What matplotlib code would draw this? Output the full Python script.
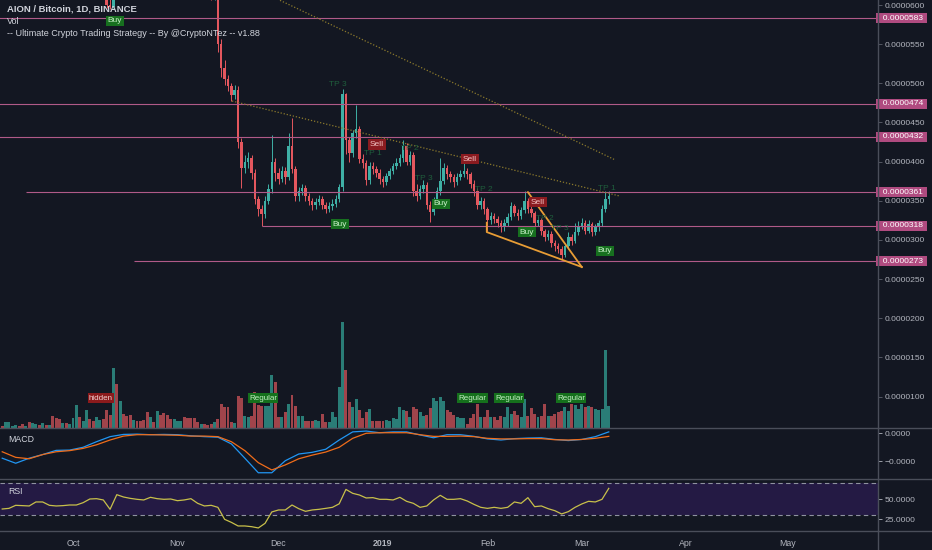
import numpy as np
import matplotlib
matplotlib.use('Agg')
import matplotlib.pyplot as plt
from matplotlib.lines import Line2D
from matplotlib.ticker import FuncFormatter
import matplotlib.transforms as mtransforms

plt.rcParams['font.family'] = ['Liberation Sans', 'DejaVu Sans']

# day numbers: 0 = 2018-10-01, first bar is 2018-09-10
# prices in units of 1e-7 BTC
first_day = -21
first_open = 700

close = [690, 695, 702, 705, 708, 700, 692, 696, 688, 693,
         698, 694, 699, 695, 700, 688, 680, 674, 678, 675,
         679, 686, 700, 693, 697, 706, 700, 694, 699, 703,
         697, 600, 598, 640, 628, 640, 634, 628, 622, 630,
         626, 622, 618, 612, 620, 616, 628, 624, 619, 615,
         612, 618, 623, 628, 624, 620, 617, 614, 612, 615,
         613, 611, 609, 615, 550, 520, 505, 496, 485, 492,
         425, 392, 400, 404, 385, 352, 340, 333, 350, 365,
         400, 385, 378, 388, 380, 420, 390, 356, 362, 366,
         356, 350, 344, 348, 352, 345, 340, 343, 346, 352,
         368, 486, 428, 411, 436, 442, 403, 398, 376, 395,
         390, 386, 378, 374, 382, 388, 394, 398, 404, 420,
         400, 408, 362, 356, 365, 370, 345, 336, 350, 362,
         375, 392, 384, 380, 374, 380, 384, 388, 384, 372,
         362, 345, 350, 339, 326, 330, 327, 322, 316, 322,
         329, 343, 335, 330, 338, 350, 340, 334, 322, 325,
         311, 304, 308, 296, 292, 288, 281, 292, 304, 298,
         310, 318, 322, 312, 320, 310, 316, 322, 340, 352,
         356]

high = [705, 699, 706, 710, 714, 712, 703, 700, 699, 697,
        702, 703, 704, 703, 705, 703, 691, 684, 683, 682,
        684, 690, 708, 704, 702, 712, 710, 704, 703, 708,
        707, 700, 612, 646, 652, 646, 644, 638, 632, 634,
        634, 630, 626, 621, 625, 624, 634, 632, 628, 623,
        619, 622, 627, 633, 632, 628, 624, 620, 618, 619,
        618, 616, 614, 625, 620, 556, 530, 510, 500, 498,
        497, 430, 408, 412, 408, 390, 356, 345, 356, 372,
        434, 404, 392, 395, 393, 437, 456, 394, 368, 372,
        370, 360, 354, 354, 358, 356, 349, 348, 352, 357,
        372, 493, 488, 432, 440, 472, 446, 410, 402, 400,
        400, 394, 390, 382, 386, 392, 398, 404, 410, 428,
        424, 414, 412, 372, 370, 376, 374, 350, 355, 367,
        405, 398, 396, 388, 384, 385, 389, 399, 392, 387,
        376, 366, 355, 353, 342, 336, 334, 331, 326, 327,
        334, 348, 346, 339, 342, 362, 354, 344, 337, 330,
        328, 314, 313, 311, 300, 296, 292, 296, 310, 307,
        322, 324, 328, 325, 326, 323, 320, 326, 344, 362,
        362]

low = [684, 686, 691, 698, 700, 695, 687, 688, 683, 684,
       689, 690, 690, 690, 692, 684, 676, 670, 670, 671,
       672, 676, 684, 688, 690, 694, 696, 690, 690, 695,
       692, 596, 595, 596, 622, 624, 629, 624, 618, 619,
       622, 618, 614, 608, 609, 612, 613, 620, 615, 611,
       608, 609, 614, 620, 620, 616, 613, 610, 608, 609,
       609, 608, 607, 607, 540, 508, 498, 490, 478, 480,
       418, 366, 385, 392, 378, 346, 330, 318, 328, 346,
       360, 375, 372, 374, 372, 376, 385, 350, 350, 357,
       350, 344, 338, 340, 344, 340, 335, 336, 338, 342,
       348, 362, 410, 400, 406, 430, 398, 392, 370, 372,
       384, 380, 372, 368, 370, 378, 384, 390, 394, 400,
       396, 396, 356, 350, 352, 360, 340, 323, 332, 346,
       358, 372, 378, 374, 368, 370, 376, 380, 378, 366,
       356, 340, 340, 333, 311, 320, 322, 316, 310, 312,
       318, 326, 330, 325, 327, 334, 335, 329, 317, 318,
       306, 298, 300, 291, 286, 283, 276, 278, 289, 293,
       296, 306, 314, 307, 309, 305, 306, 312, 318, 336,
       346]

volume = [2, 6, 6, 2, 3, 2, 4, 2, 6, 5,
          4, 3, 5, 3, 3, 12, 10, 9, 5, 5,
          4, 10, 23, 11, 7, 18, 9, 7, 11, 8,
          9, 18, 13, 60, 44, 27, 14, 12, 13, 8,
          7, 7, 8, 16, 11, 6, 17, 13, 15, 13,
          9, 9, 7, 7, 11, 10, 10, 10, 6, 4,
          4, 3, 4, 6, 9, 24, 21, 21, 6, 5,
          32, 30, 12, 11, 12, 36, 23, 22, 22, 22,
          53, 46, 11, 11, 16, 24, 33, 22, 12, 12,
          7, 7, 7, 8, 7, 14, 6, 6, 16, 11,
          41, 106, 58, 26, 21, 29, 18, 10, 16, 19,
          7, 7, 7, 7, 8, 7, 10, 9, 21, 18,
          17, 11, 21, 19, 16, 12, 13, 20, 30, 27,
          31, 27, 18, 16, 13, 11, 10, 10, 4, 10,
          14, 24, 11, 11, 18, 11, 11, 8, 12, 11,
          21, 14, 17, 13, 11, 29, 12, 20, 14, 11,
          12, 24, 12, 12, 14, 16, 17, 21, 17, 24,
          23, 19, 24, 21, 22, 21, 19, 18, 19, 78,
          22]

# MACD (units of 1e-6), every 4 days from first_day
macd_line = [-0.90, -1.08, -0.90, -0.77, -0.62, -0.61, -0.51, -0.31, -0.13, -0.05,
             -0.04, -0.06, -0.05, -0.06, -0.10, -0.13, -0.15, -0.39, -0.90, -1.42,
             -1.42, -0.99, -0.75, -0.69, -0.58, -0.25, 0.04, 0.07, 0.01, 0.04,
             0.04, -0.07, -0.17, -0.06, -0.06, -0.12, -0.21, -0.25, -0.20, -0.18,
             -0.17, -0.23, -0.27, -0.23, -0.13, 0.04]
macd_signal = [-0.67, -0.87, -0.92, -0.77, -0.67, -0.63, -0.55, -0.42, -0.25, -0.11,
               -0.06, -0.06, -0.07, -0.08, -0.11, -0.11, -0.13, -0.31, -0.63, -1.06,
               -1.32, -1.14, -0.92, -0.79, -0.68, -0.51, -0.19, -0.01, 0.01, 0.01,
               0.01, -0.06, -0.12, -0.12, -0.11, -0.13, -0.19, -0.21, -0.21, -0.20,
               -0.20, -0.24, -0.25, -0.23, -0.19, -0.12]

# RSI, every 2 days from first_day
rsi = [37.5, 38.3, 42.1, 41.7, 41.3, 46.3, 46.3, 42.1, 41.3, 41.7,
       42.5, 42.5, 45.4, 50.0, 50.4, 48.8, 37.1, 55.4, 52.5, 50.8,
       49.6, 48.8, 52.1, 50.4, 49.6, 50.0, 47.9, 48.8, 50.4, 44.6,
       41.3, 42.1, 39.6, 24.6, 20.8, 16.3, 16.3, 15.4, 13.8, 19.6,
       33.8, 36.3, 36.3, 42.5, 37.9, 34.6, 36.3, 37.1, 38.3, 39.6,
       44.0, 62.0, 57.1, 55.0, 51.3, 51.7, 49.6, 49.6, 48.8, 52.1,
       47.1, 44.6, 39.6, 41.3, 48.8, 54.6, 49.6, 49.6, 50.4, 47.5,
       43.3, 39.6, 38.3, 39.6, 38.3, 39.6, 46.3, 44.6, 51.7, 40.4,
       41.3, 37.9, 35.4, 31.3, 34.2, 39.6, 43.8, 47.1, 46.3, 49.6,
       63.3]

levels = [583, 474, 432, 361, 318, 273]
level_start = [-22, -22, -22, -14, 56, 18]

month_days = [0, 31, 61, 92, 123, 151, 182, 212]
month_names = ['Oct', 'Nov', 'Dec', '2019', 'Feb', 'Mar', 'Apr', 'May']

buy_signals = [(12.5, 580), (79.2, 320), (109.2, 346), (134.7, 310), (157.9, 286)]
sell_signals = [(90.2, 422), (117.8, 403), (138.0, 348)]
tp_labels = [('TP 3', 78.6, 499), ('TP 1', 89.0, 411), ('TP 2', 100.0, 417),
             ('TP 3', 104.0, 379), ('TP 2', 122.0, 364), ('TP 2', 140.0, 327),
             ('TP 3', 144.5, 314), ('TP 1', 158.5, 366)]
div_labels = [('hidden', 8.3, '#8b1a1c', '#f2d2d2'), ('Regular', 56.4, '#15701c', '#c2eec2'),
              ('Regular', 118.6, '#15701c', '#c2eec2'), ('Regular', 129.4, '#15701c', '#c2eec2'),
              ('Regular', 147.8, '#15701c', '#c2eec2')]

dotted_lines = [[(58, 613), (161, 402)], [(47.2, 477.4), (162.3, 356)]]
wedge_lines = [[(122.8, 322), (122.8, 310), (151, 265.4)], [(135, 361), (151, 265.4)]]

BG = '#131722'
TXT = '#b2b5be'
SEP = '#4a4e5a'
UP, DOWN = '#3fb0a6', '#e4575e'
VUP, VDOWN = '#2a7d77', '#a0444b'
W, H = 932, 550


def rect(top, bottom):
    return [0, 1 - bottom / H, 878 / W, (bottom - top) / H]


fig = plt.figure(figsize=(W / 100, H / 100), dpi=100, facecolor=BG)
axv = fig.add_axes(rect(0, 428), facecolor=BG)
ax = fig.add_axes(rect(0, 428), sharex=axv, facecolor='none')
axm = fig.add_axes(rect(428, 479), sharex=axv, facecolor=BG)
axr = fig.add_axes(rect(479, 531), sharex=axv, facecolor=BG)

for a in (axv, ax, axm, axr):
    for s in a.spines.values():
        s.set_visible(False)
    a.tick_params(bottom=False, labelbottom=False, left=False, labelleft=False)
axv.set_xlim(-21.66, 238.9)

# candles
days = np.arange(first_day, first_day + len(close))
c = np.array(close, float)
o = np.concatenate([[first_open], c[:-1]])
up = c >= o
cols = np.where(up, UP, DOWN)
ax.vlines(days, low, high, colors=cols, linewidth=0.7)
body = np.maximum(np.abs(c - o), 0.8)
ax.bar(days, body, bottom=np.minimum(c, o), width=0.74, color=cols, linewidth=0)
ax.set_ylim(59.8, 606.4)

# volume
axv.bar(days, volume, width=0.88, color=np.where(up, VUP, VDOWN), linewidth=0)
axv.set_ylim(0, max(volume) * 4.04)
axv.set_yticks([])

ax.yaxis.tick_right()
ax.set_yticks(range(100, 601, 50))
ax.yaxis.set_major_formatter(FuncFormatter(lambda v, _: f'{v * 1e-7:.7f}'))
ax.tick_params(right=True, labelright=True, colors=TXT, labelsize=6.1, length=3,
               width=0.6, pad=2)
ax.tick_params(axis='y', color='#5d606b')

# levels
ax.hlines(levels, level_start, 240, colors='#b05a88', linewidth=0.8)
ytrans = mtransforms.blended_transform_factory(ax.transAxes, ax.transData)
for lv in levels:
    ax.text(1.0, lv, f'  {lv * 1e-7:.7f} ', transform=ytrans, ha='left', va='center',
            fontsize=6.1, color='white', clip_on=False, zorder=6,
            bbox=dict(boxstyle='square,pad=0.18', fc='#b04b80', ec='none'))

for seg in dotted_lines:
    xs, ys = zip(*seg)
    ax.plot(xs, ys, color='#8c7a2c', linestyle=(0, (1, 1.5)), linewidth=0.9)
for seg in wedge_lines:
    xs, ys = zip(*seg)
    ax.plot(xs, ys, color='#e89d35', linewidth=1.3)

for x, y in buy_signals:
    ax.text(x, y, 'Buy', ha='center', va='center', fontsize=6, color='#c6eec6',
            bbox=dict(boxstyle='square,pad=0.2', fc='#17701f', ec='none'))
for x, y in sell_signals:
    ax.text(x, y, 'Sell', ha='center', va='center', fontsize=6, color='#f3c4c4',
            bbox=dict(boxstyle='square,pad=0.2', fc='#8a1b20', ec='none'))
for t, x, y in tp_labels:
    ax.text(x, y, t, ha='center', va='center', fontsize=6, color='#1f5e3c')
for t, x, fc, tc in div_labels:
    axv.text(x, 30, t, ha='center', va='center', fontsize=5.8, color=tc, zorder=5,
             bbox=dict(boxstyle='square,pad=0.15', fc=fc, ec='none'))

# MACD
macd_days = first_day + 4 * np.arange(len(macd_line))
axm.plot(macd_days, macd_line, color='#2196f3', linewidth=0.9)
axm.plot(macd_days, macd_signal, color='#ef6c1a', linewidth=0.9)
axm.set_ylim(-1.643, 0.179)
axm.yaxis.tick_right()
axm.set_yticks([0, -1])
axm.yaxis.set_major_formatter(FuncFormatter(lambda v, _: f'{v * 1e-6:.4f}'.replace('-', '\u2212')))
axm.tick_params(right=True, labelright=True, colors=TXT, labelsize=6.1, length=3,
                width=0.6, pad=2)

# RSI
rsi_days = first_day + 2 * np.arange(len(rsi))
axr.axhspan(30, 70, color='#241a44', linewidth=0)
axr.axhline(70, color='#8f92a0', linestyle=(0, (4, 3)), linewidth=0.8)
axr.axhline(30, color='#8f92a0', linestyle=(0, (4, 3)), linewidth=0.8)
axr.plot(rsi_days, rsi, color='#c8c04a', linewidth=0.9)
axr.set_ylim(10, 75)
axr.yaxis.tick_right()
axr.set_yticks([25, 50])
axr.yaxis.set_major_formatter(FuncFormatter(lambda v, _: f'{v:.4f}'))
axr.tick_params(right=True, labelright=True, colors=TXT, labelsize=6.1, length=3,
                width=0.6, pad=2)
axr.set_xticks(month_days)
axr.set_xticklabels(month_names)
axr.tick_params(axis='x', bottom=True, labelbottom=True, length=0, pad=6,
                labelsize=6.3, colors=TXT)
for lab in axr.get_xticklabels():
    if lab.get_text() == '2019':
        lab.set_fontweight('bold')

# pane separators and price scale border
for y in (428, 479, 531):
    fig.add_artist(Line2D([0, 1], [1 - y / H] * 2, color=SEP, linewidth=1.0))
fig.add_artist(Line2D([878 / W] * 2, [0, 1], color=SEP, linewidth=1.0))

fig.text(7 / W, 1 - 9 / H, 'AION / Bitcoin, 1D, BINANCE', va='center', fontsize=6.8,
         fontweight='bold', color='#d1d4dc')
fig.text(7 / W, 1 - 22 / H, 'Vol', va='center', fontsize=6.5, color='#d1d4dc')
fig.text(7 / W, 1 - 34 / H, '-- Ultimate Crypto Trading Strategy -- By @CryptoNTez -- v1.88',
         va='center', fontsize=6.5, color='#d1d4dc')
fig.text(8 / W, 1 - 440 / H, 'MACD', va='center', fontsize=6.3, color='#d1d4dc')
fig.text(8 / W, 1 - 492 / H, 'RSI', va='center', fontsize=6.3, color='#d1d4dc')

fig.savefig('out.png', dpi=100, facecolor=BG)
